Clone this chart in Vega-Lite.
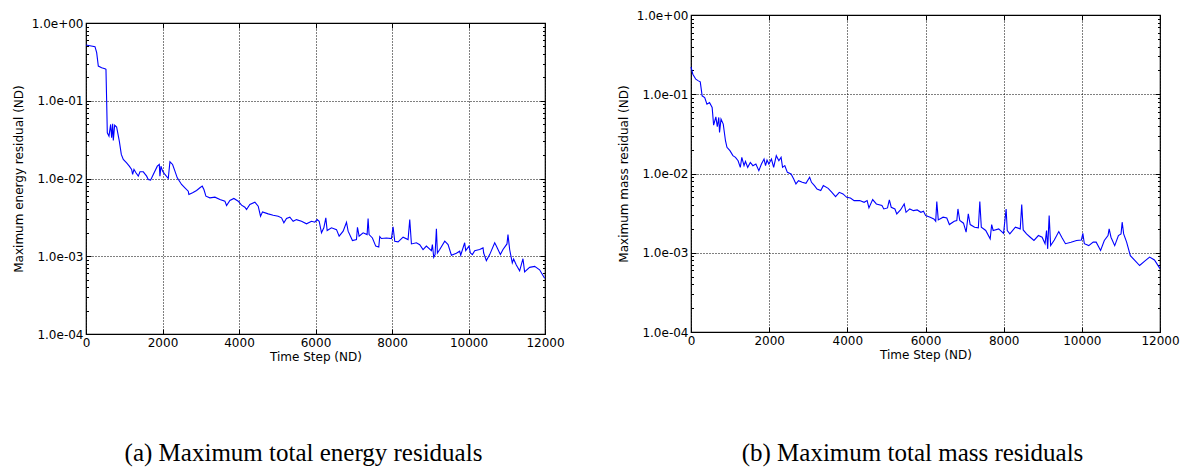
{
  "$schema": "https://vega.github.io/schema/vega-lite/v6.json",
  "padding": {"left": 11, "top": 8, "right": 3, "bottom": 0},
  "background": "white",
  "spacing": 51,
  "config": {
    "view": {"stroke": "black", "strokeWidth": 1.2},
    "axis": {
      "labelFont": "DejaVu Sans", "titleFont": "DejaVu Sans",
      "labelFontSize": 12, "titleFontSize": 12, "titleFontWeight": "normal",
      "labelColor": "black", "titleColor": "black", "tickColor": "black",
      "tickWidth": 1, "domain": false, "labelFlush": false, "labelOverlap": false
    }
  },
  "hconcat": [
    {
      "vconcat": [
        {"width": 459, "height": 1, "data": {"values": [{"t": 0}]}, "mark": {"type": "point", "opacity": 0}, "view": {"stroke": null}},
        {
          "width": 459, "height": 311,
          "title": {"text": "(a) Maximum total energy residuals", "orient": "bottom", "offset": 79, "dx": -12, "font": "Liberation Serif", "fontSize": 25, "fontWeight": "normal", "color": "black", "anchor": "middle", "frame": "group"},
          "data": {"values": [
            {"t":0,"v":0.521},{"t":235,"v":0.496},{"t":279,"v":0.415},{"t":322,"v":0.2795},{"t":409,"v":0.266},{"t":496,"v":0.258},{"t":522,"v":0.253},{"t":540,"v":0.099},{"t":557,"v":0.0387},{"t":601,"v":0.0351},{"t":644,"v":0.0496},{"t":670,"v":0.0334},{"t":697,"v":0.0506},{"t":714,"v":0.0309},{"t":749,"v":0.0486},{"t":801,"v":0.0458},{"t":871,"v":0.0303},{"t":923,"v":0.0204},{"t":975,"v":0.0176},{"t":1062,"v":0.0159},{"t":1132,"v":0.0144},{"t":1193,"v":0.0131},{"t":1219,"v":0.01127},{"t":1254,"v":0.0131},{"t":1306,"v":0.01183},{"t":1367,"v":0.01072},{"t":1411,"v":0.01219},{"t":1498,"v":0.01219},{"t":1585,"v":0.01072},{"t":1628,"v":0.00971},{"t":1689,"v":0.00952},{"t":1759,"v":0.01127},{"t":1864,"v":0.0144},{"t":1916,"v":0.01515},{"t":1933,"v":0.01072},{"t":1959,"v":0.0144},{"t":2003,"v":0.01242},{"t":2064,"v":0.01127},{"t":2151,"v":0.0100},{"t":2194,"v":0.0164},{"t":2264,"v":0.01515},{"t":2325,"v":0.01242},{"t":2386,"v":0.0102},{"t":2499,"v":0.00837},{"t":2586,"v":0.00759},{"t":2673,"v":0.00687},{"t":2690,"v":0.00622},{"t":2787,"v":0.00654},{"t":2891,"v":0.0070},{"t":2978,"v":0.00759},{"t":3039,"v":0.00797},{"t":3083,"v":0.00722},{"t":3135,"v":0.00592},{"t":3239,"v":0.00564},{"t":3370,"v":0.00575},{"t":3501,"v":0.00537},{"t":3631,"v":0.00511},{"t":3675,"v":0.00449},{"t":3762,"v":0.00521},{"t":3866,"v":0.00553},{"t":3980,"v":0.00511},{"t":4067,"v":0.00454},{"t":4154,"v":0.00427},{"t":4197,"v":0.00399},{"t":4284,"v":0.00463},{"t":4415,"v":0.00496},{"t":4502,"v":0.0044},{"t":4563,"v":0.00327},{"t":4615,"v":0.00372},{"t":4763,"v":0.00351},{"t":4894,"v":0.00337},{"t":5025,"v":0.00327},{"t":5112,"v":0.00312},{"t":5173,"v":0.00269},{"t":5242,"v":0.00306},{"t":5329,"v":0.00318},{"t":5416,"v":0.00282},{"t":5503,"v":0.00296},{"t":5634,"v":0.00282},{"t":5765,"v":0.00261},{"t":5896,"v":0.00282},{"t":5982,"v":0.00274},{"t":6043,"v":0.00296},{"t":6096,"v":0.00282},{"t":6157,"v":0.002},{"t":6218,"v":0.00232},{"t":6270,"v":0.00312},{"t":6305,"v":0.00214},{"t":6418,"v":0.00232},{"t":6549,"v":0.0022},{"t":6618,"v":0.00181},{"t":6723,"v":0.0021},{"t":6810,"v":0.00274},{"t":6853,"v":0.0021},{"t":6966,"v":0.00159},{"t":7071,"v":0.00164},{"t":7097,"v":0.00236},{"t":7140,"v":0.00181},{"t":7245,"v":0.002},{"t":7349,"v":0.0019},{"t":7375,"v":0.00306},{"t":7401,"v":0.0019},{"t":7488,"v":0.00172},{"t":7575,"v":0.00135},{"t":7654,"v":0.00131},{"t":7680,"v":0.00179},{"t":7723,"v":0.00169},{"t":7854,"v":0.00172},{"t":7985,"v":0.00169},{"t":8028,"v":0.00239},{"t":8072,"v":0.00156},{"t":8159,"v":0.00153},{"t":8290,"v":0.00176},{"t":8420,"v":0.00164},{"t":8464,"v":0.00296},{"t":8508,"v":0.00144},{"t":8638,"v":0.00149},{"t":8725,"v":0.00141},{"t":8812,"v":0.00122},{"t":8899,"v":0.00135},{"t":9030,"v":0.00118},{"t":9056,"v":0.00141},{"t":9091,"v":0.00097},{"t":9126,"v":0.00105},{"t":9161,"v":0.00225},{"t":9187,"v":0.0011},{"t":9248,"v":0.00122},{"t":9379,"v":0.00156},{"t":9466,"v":0.00141},{"t":9553,"v":0.00103},{"t":9683,"v":0.00109},{"t":9770,"v":0.00116},{"t":9796,"v":0.00103},{"t":9900,"v":0.00149},{"t":9927,"v":0.00118},{"t":10014,"v":0.00135},{"t":10049,"v":0.0011},{"t":10101,"v":0.00105},{"t":10162,"v":0.00118},{"t":10292,"v":0.00122},{"t":10380,"v":0.00128},{"t":10397,"v":0.0011},{"t":10467,"v":0.00088},{"t":10554,"v":0.00105},{"t":10685,"v":0.00149},{"t":10728,"v":0.00135},{"t":10833,"v":0.00105},{"t":10902,"v":0.00122},{"t":11006,"v":0.00144},{"t":11032,"v":0.0019},{"t":11076,"v":0.00122},{"t":11145,"v":0.00082},{"t":11180,"v":0.00092},{"t":11250,"v":0.00077},{"t":11337,"v":0.00065},{"t":11424,"v":0.00093},{"t":11467,"v":0.00063},{"t":11598,"v":0.00072},{"t":11729,"v":0.00074},{"t":11859,"v":0.00067},{"t":11990,"v":0.00052}
          ]},
          "resolve": {"axis": {"x": "independent", "y": "independent"}},
          "layer": [
            {
              "mark": {"type": "line", "color": "#0000ff", "strokeWidth": 1.1},
              "encoding": {
                "x": {"field": "t", "type": "quantitative", "scale": {"domain": [0, 12000], "nice": false, "zero": false},
                  "axis": {"orient": "bottom", "values": [0,2000,4000,6000,8000,10000,12000], "format": "d", "grid": true, "gridColor": "black", "gridOpacity": 1, "gridDash": [1,2], "gridWidth": 1, "tickSize": -5, "labelPadding": 8, "title": "Time Step (ND)", "titlePadding": 3}},
                "y": {"field": "v", "type": "quantitative", "scale": {"type": "log", "domain": [0.0001, 1], "nice": false},
                  "axis": {"orient": "left", "values": [0.0001,0.001,0.01,0.1,1], "labelExpr": "'1.0e' + (datum.value >= 1 ? '+00' : '-0' + round(-log(datum.value)/LN10))", "grid": true, "gridColor": "black", "gridOpacity": 1, "gridDash": [1,2], "gridWidth": 1, "tickSize": -5, "labelPadding": 8, "title": "Maximum energy residual (ND)", "titlePadding": 6}}
              }
            },
            {
              "mark": {"type": "line", "opacity": 0},
              "encoding": {
                "x": {"field": "t", "type": "quantitative", "scale": {"domain": [0, 12000], "nice": false, "zero": false},
                  "axis": {"orient": "top", "values": [0,2000,4000,6000,8000,10000,12000], "labels": false, "grid": false, "tickSize": -5, "title": null}},
                "y": {"field": "v", "type": "quantitative", "scale": {"type": "log", "domain": [0.0001, 1], "nice": false},
                  "axis": {"orient": "right", "values": [0.0001,0.001,0.01,0.1,1], "labels": false, "grid": false, "tickSize": -5, "title": null}}
              }
            },
            {
              "mark": {"type": "line", "opacity": 0},
              "encoding": {
                "x": {"field": "t", "type": "quantitative", "scale": {"domain": [0, 12000], "nice": false, "zero": false}, "axis": null},
                "y": {"field": "v", "type": "quantitative", "scale": {"type": "log", "domain": [0.0001, 1], "nice": false},
                  "axis": {"orient": "left", "values": [0.0002,0.0003,0.0004,0.0005,0.0006,0.0007,0.0008,0.0009,0.002,0.003,0.004,0.005,0.006,0.007,0.008,0.009,0.02,0.03,0.04,0.05,0.06,0.07,0.08,0.09,0.2,0.3,0.4,0.5,0.6,0.7,0.8,0.9], "labels": false, "grid": false, "tickSize": -2.5, "title": null}}
              }
            },
            {
              "mark": {"type": "line", "opacity": 0},
              "encoding": {
                "x": {"field": "t", "type": "quantitative", "scale": {"domain": [0, 12000], "nice": false, "zero": false}, "axis": null},
                "y": {"field": "v", "type": "quantitative", "scale": {"type": "log", "domain": [0.0001, 1], "nice": false},
                  "axis": {"orient": "right", "values": [0.0002,0.0003,0.0004,0.0005,0.0006,0.0007,0.0008,0.0009,0.002,0.003,0.004,0.005,0.006,0.007,0.008,0.009,0.02,0.03,0.04,0.05,0.06,0.07,0.08,0.09,0.2,0.3,0.4,0.5,0.6,0.7,0.8,0.9], "labels": false, "grid": false, "tickSize": -2.5, "title": null}}
              }
            }
          ]
        }
      ],
      "spacing": 7,
      "bounds": "flush"
    },
    {
      "width": 469, "height": 317,
      "title": {"text": "(b) Maximum total mass residuals", "orient": "bottom", "offset": 81, "dx": -13, "font": "Liberation Serif", "fontSize": 25, "fontWeight": "normal", "color": "black", "anchor": "middle", "frame": "group"},
      "data": {"values": [
        {"t":0,"v":0.2214},{"t":47,"v":0.179},{"t":123,"v":0.1548},{"t":190,"v":0.1475},{"t":237,"v":0.1433},{"t":285,"v":0.0955},{"t":351,"v":0.091},{"t":408,"v":0.075},{"t":474,"v":0.0787},{"t":541,"v":0.0681},{"t":579,"v":0.0408},{"t":636,"v":0.0519},{"t":673,"v":0.0389},{"t":711,"v":0.051},{"t":730,"v":0.033},{"t":768,"v":0.0486},{"t":825,"v":0.042},{"t":882,"v":0.0259},{"t":920,"v":0.0214},{"t":996,"v":0.0194},{"t":1072,"v":0.0168},{"t":1138,"v":0.016},{"t":1205,"v":0.0145},{"t":1262,"v":0.01196},{"t":1300,"v":0.016},{"t":1357,"v":0.01255},{"t":1394,"v":0.0142},{"t":1451,"v":0.01196},{"t":1518,"v":0.0138},{"t":1584,"v":0.01255},{"t":1660,"v":0.0132},{"t":1736,"v":0.01086},{"t":1802,"v":0.0132},{"t":1869,"v":0.0152},{"t":1907,"v":0.01255},{"t":1945,"v":0.0148},{"t":1992,"v":0.0132},{"t":2058,"v":0.0152},{"t":2115,"v":0.01196},{"t":2182,"v":0.0168},{"t":2248,"v":0.0145},{"t":2305,"v":0.016},{"t":2343,"v":0.01196},{"t":2400,"v":0.01255},{"t":2466,"v":0.01034},{"t":2561,"v":0.00986},{"t":2628,"v":0.00852},{"t":2685,"v":0.00738},{"t":2751,"v":0.00812},{"t":2846,"v":0.00774},{"t":2941,"v":0.00752},{"t":3036,"v":0.00895},{"t":3083,"v":0.00774},{"t":3159,"v":0.00703},{"t":3225,"v":0.00638},{"t":3320,"v":0.00608},{"t":3386,"v":0.00703},{"t":3510,"v":0.0065},{"t":3605,"v":0.00579},{"t":3699,"v":0.00511},{"t":3794,"v":0.00579},{"t":3889,"v":0.00552},{"t":3984,"v":0.00501},{"t":4079,"v":0.00491},{"t":4174,"v":0.00455},{"t":4316,"v":0.00455},{"t":4430,"v":0.00433},{"t":4506,"v":0.00455},{"t":4553,"v":0.00368},{"t":4648,"v":0.00468},{"t":4743,"v":0.00413},{"t":4885,"v":0.00394},{"t":4933,"v":0.00357},{"t":5028,"v":0.00368},{"t":5075,"v":0.00464},{"t":5123,"v":0.00375},{"t":5217,"v":0.00357},{"t":5265,"v":0.00309},{"t":5360,"v":0.00347},{"t":5455,"v":0.00413},{"t":5502,"v":0.00324},{"t":5597,"v":0.00357},{"t":5692,"v":0.0034},{"t":5787,"v":0.00347},{"t":5882,"v":0.00324},{"t":5948,"v":0.00334},{"t":6005,"v":0.00294},{"t":6119,"v":0.00281},{"t":6213,"v":0.00267},{"t":6261,"v":0.0025},{"t":6289,"v":0.00442},{"t":6327,"v":0.0026},{"t":6450,"v":0.00281},{"t":6545,"v":0.00275},{"t":6611,"v":0.00227},{"t":6735,"v":0.0025},{"t":6801,"v":0.00255},{"t":6830,"v":0.00357},{"t":6877,"v":0.00255},{"t":6972,"v":0.00236},{"t":7039,"v":0.00182},{"t":7095,"v":0.00309},{"t":7143,"v":0.00227},{"t":7257,"v":0.0021},{"t":7352,"v":0.00206},{"t":7390,"v":0.00442},{"t":7428,"v":0.0021},{"t":7541,"v":0.00191},{"t":7655,"v":0.0015},{"t":7693,"v":0.00227},{"t":7731,"v":0.00191},{"t":7873,"v":0.002},{"t":7997,"v":0.00176},{"t":8063,"v":0.00357},{"t":8092,"v":0.00191},{"t":8158,"v":0.00173},{"t":8300,"v":0.0021},{"t":8424,"v":0.002},{"t":8462,"v":0.00405},{"t":8500,"v":0.00194},{"t":8585,"v":0.00173},{"t":8680,"v":0.00157},{"t":8775,"v":0.00143},{"t":8889,"v":0.00165},{"t":8984,"v":0.00157},{"t":9059,"v":0.0013},{"t":9097,"v":0.00191},{"t":9126,"v":0.00112},{"t":9164,"v":0.00294},{"t":9202,"v":0.00123},{"t":9296,"v":0.00145},{"t":9410,"v":0.00185},{"t":9486,"v":0.00157},{"t":9581,"v":0.0013},{"t":9723,"v":0.00136},{"t":9865,"v":0.00143},{"t":9989,"v":0.00145},{"t":10026,"v":0.00176},{"t":10064,"v":0.0013},{"t":10177,"v":0.00123},{"t":10291,"v":0.00136},{"t":10367,"v":0.00136},{"t":10480,"v":0.00107},{"t":10575,"v":0.00143},{"t":10670,"v":0.00165},{"t":10699,"v":0.002},{"t":10746,"v":0.00157},{"t":10841,"v":0.00123},{"t":10936,"v":0.00165},{"t":11003,"v":0.00173},{"t":11032,"v":0.00243},{"t":11070,"v":0.00173},{"t":11146,"v":0.00136},{"t":11241,"v":0.00092},{"t":11355,"v":0.0008},{"t":11478,"v":0.00069},{"t":11601,"v":0.00078},{"t":11734,"v":0.00088},{"t":11858,"v":0.00081},{"t":12000,"v":0.00063}
      ]},
      "resolve": {"axis": {"x": "independent", "y": "independent"}},
      "layer": [
        {
          "mark": {"type": "line", "color": "#0000ff", "strokeWidth": 1.1},
          "encoding": {
            "x": {"field": "t", "type": "quantitative", "scale": {"domain": [0, 12000], "nice": false, "zero": false},
              "axis": {"orient": "bottom", "values": [0,2000,4000,6000,8000,10000,12000], "format": "d", "grid": true, "gridColor": "black", "gridOpacity": 1, "gridDash": [1,2], "gridWidth": 1, "tickSize": -5, "labelPadding": 8, "title": "Time Step (ND)", "titlePadding": 3}},
            "y": {"field": "v", "type": "quantitative", "scale": {"type": "log", "domain": [0.0001, 1], "nice": false},
              "axis": {"orient": "left", "values": [0.0001,0.001,0.01,0.1,1], "labelExpr": "'1.0e' + (datum.value >= 1 ? '+00' : '-0' + round(-log(datum.value)/LN10))", "grid": true, "gridColor": "black", "gridOpacity": 1, "gridDash": [1,2], "gridWidth": 1, "tickSize": -5, "labelPadding": 8, "title": "Maximum mass residual (ND)", "titlePadding": 6}}
          }
        },
        {
          "mark": {"type": "line", "opacity": 0},
          "encoding": {
            "x": {"field": "t", "type": "quantitative", "scale": {"domain": [0, 12000], "nice": false, "zero": false},
              "axis": {"orient": "top", "values": [0,2000,4000,6000,8000,10000,12000], "labels": false, "grid": false, "tickSize": -5, "title": null}},
            "y": {"field": "v", "type": "quantitative", "scale": {"type": "log", "domain": [0.0001, 1], "nice": false},
              "axis": {"orient": "right", "values": [0.0001,0.001,0.01,0.1,1], "labels": false, "grid": false, "tickSize": -5, "title": null}}
          }
        },
        {
          "mark": {"type": "line", "opacity": 0},
          "encoding": {
            "x": {"field": "t", "type": "quantitative", "scale": {"domain": [0, 12000], "nice": false, "zero": false}, "axis": null},
            "y": {"field": "v", "type": "quantitative", "scale": {"type": "log", "domain": [0.0001, 1], "nice": false},
              "axis": {"orient": "left", "values": [0.0002,0.0003,0.0004,0.0005,0.0006,0.0007,0.0008,0.0009,0.002,0.003,0.004,0.005,0.006,0.007,0.008,0.009,0.02,0.03,0.04,0.05,0.06,0.07,0.08,0.09,0.2,0.3,0.4,0.5,0.6,0.7,0.8,0.9], "labels": false, "grid": false, "tickSize": -2.5, "title": null}}
          }
        },
        {
          "mark": {"type": "line", "opacity": 0},
          "encoding": {
            "x": {"field": "t", "type": "quantitative", "scale": {"domain": [0, 12000], "nice": false, "zero": false}, "axis": null},
            "y": {"field": "v", "type": "quantitative", "scale": {"type": "log", "domain": [0.0001, 1], "nice": false},
              "axis": {"orient": "right", "values": [0.0002,0.0003,0.0004,0.0005,0.0006,0.0007,0.0008,0.0009,0.002,0.003,0.004,0.005,0.006,0.007,0.008,0.009,0.02,0.03,0.04,0.05,0.06,0.07,0.08,0.09,0.2,0.3,0.4,0.5,0.6,0.7,0.8,0.9], "labels": false, "grid": false, "tickSize": -2.5, "title": null}}
          }
        }
      ]
    }
  ]
}
